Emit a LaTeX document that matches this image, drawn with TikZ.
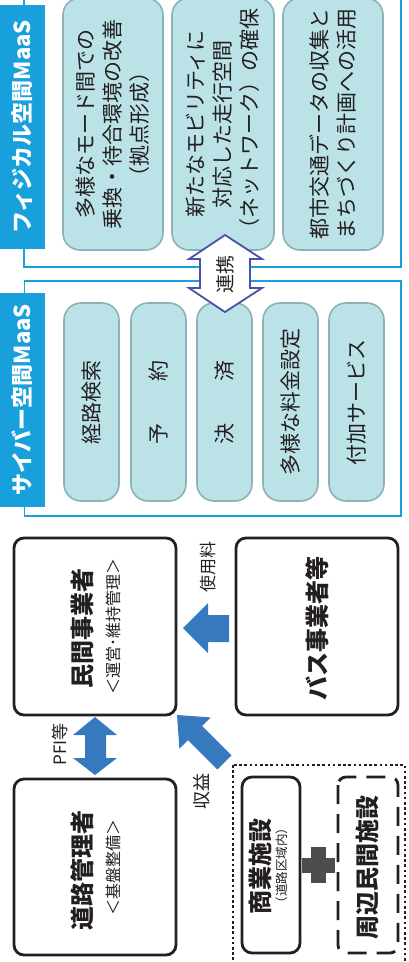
\documentclass[tikz,border=0pt]{standalone}
\usepackage{fontspec}
\setmainfont{Noto Sans CJK JP}
\definecolor{maasblue}{RGB}{24,160,220}
\definecolor{boxfill}{RGB}{186,226,231}
\definecolor{boxline}{RGB}{140,178,184}
\definecolor{arrowblue}{RGB}{55,121,191}
\definecolor{linkblue}{RGB}{72,82,168}
\definecolor{txt}{RGB}{35,30,32}
\definecolor{plusgray}{RGB}{77,77,77}
\tikzset{
  frame/.style={draw=maasblue, line width=1.8pt},
  strip/.style={fill=maasblue, rotate=90, inner sep=0pt, text=white, font=\bfseries\fontsize{22}{26}\selectfont},
  pbox/.style={draw=boxline, fill=boxfill, line width=1.6pt, rounded corners=17pt, rotate=90, inner sep=0pt, align=center, text=txt, font=\fontsize{21}{27}\selectfont},
  cbox/.style={pbox, minimum width=198, minimum height=55},
  bbox/.style={draw=txt, line width=2.8pt, rounded corners=10pt, inner sep=0pt},
  ttl/.style={rotate=90, inner sep=0pt, text=txt, font=\bfseries\fontsize{24}{28}\selectfont},
  subt/.style={rotate=90, inner sep=0pt, text=txt, font=\fontsize{16}{20}\selectfont},
  lbl/.style={rotate=90, inner sep=0pt, text=txt, font=\fontsize{17}{20}\selectfont},
  barrow/.style={fill=arrowblue, draw=none},
}
\begin{document}
\begin{tikzpicture}[x=1pt, y=-1pt]
\path[use as bounding box] (0,0) rectangle (408,962);
\clip (0,0) rectangle (408,962);
% frames
\draw[frame] (24,-10) rectangle (401,267);
\draw[frame] (24.5,281) rectangle (401,516);
% title strips
\node[strip, minimum width=244, minimum height=45] (phys) at (22.5,127) {フィジカル空間MaaS};
\node[strip, minimum width=214, minimum height=45] (cyber) at (22.5,400) {サイバー空間MaaS};
% physical boxes
\node[pbox, minimum width=252, minimum height=100] (p1) at (113,124) {多様なモード間での\\乗換・待合環境の改善\\（拠点形成）};
\node[pbox, minimum width=252, minimum height=102] (p2) at (223,124) {新たなモビリティに\\対応した走行空間\\（ネットワーク）の確保};
\node[pbox, minimum width=252, minimum height=100] (p3) at (333,124) {都市交通データの収集と\\まちづくり計画への活用};
% cyber boxes
\node[cbox] (c1) at (91.5,402) {経路検索};
\node[cbox] (c2) at (158.5,402) {予　　約};
\node[cbox] (c3) at (224.5,402) {決　　済};
\node[cbox] (c4) at (290.5,402) {多様な料金設定};
\node[cbox] (c5) at (356.5,402) {付加サービス};
% link arrow
\draw[fill=white, draw=linkblue, line width=1.8pt, line join=miter]
  (225,235) -- (262,259) -- (250,259) -- (250,288) -- (262,288) -- (225,312)
  -- (189,288) -- (200,288) -- (200,259) -- (189,259) -- cycle;
\node[rotate=90, inner sep=0pt, text=txt, font=\fontsize{19}{22}\selectfont] (link) at (225,274) {連携};
% black boxes
\node[bbox, minimum width=162, minimum height=177] (m) at (95,626.5) {};
\node[ttl] (mt) at (82,628.5) {民間事業者};
\node[subt] (ms) at (113,626.5) {＜運営･維持管理＞};
\node[bbox, minimum width=162, minimum height=177] (bus) at (317,626.5) {};
\node[ttl] (bust) at (317,628.5) {バス事業者等};
\node[bbox, minimum width=162, minimum height=176] (road) at (95,867) {};
\node[ttl] (roadt) at (82,870) {道路管理者};
\node[subt] (roads) at (113,867.5) {＜基盤整備＞};
% facilities
\draw[draw=txt, line width=2.6pt, dash pattern=on 2.6pt off 2.6pt] (233,765) rectangle (405,990);
\node[bbox, minimum width=58, minimum height=176] (shop) at (271,865) {};
\node[ttl] (shopt) at (260,866.5) {商業施設};
\node[subt, font=\fontsize{12.5}{15}\selectfont] (shops) at (282,865.5) {（道路区域内）};
\draw[draw=txt, line width=2.8pt, rounded corners=8pt, dash pattern=on 19pt off 10pt] (338,777) rectangle (398,953);
\node[ttl] (near) at (367,867.5) {周辺民間施設};
% plus
\fill[plusgray] (302,858) rectangle (335,873);
\fill[plusgray] (311,847) rectangle (326,883);
% blue block arrows
\draw[barrow] (95,717) -- (117,735) -- (106,735) -- (106,758) -- (117,758) -- (95,775)
  -- (73,758) -- (85,758) -- (85,735) -- (73,735) -- cycle;
\node[lbl] (pfi) at (60,744.5) {PFI等};
\draw[barrow] (183,628) -- (208,603) -- (208,615) -- (229,615) -- (229,642) -- (208,642) -- (208,653) -- cycle;
\node[lbl] (fee) at (208,567) {使用料};
\draw[barrow] (177,715) -- (210.6,717.4) -- (202.1,725.9) -- (231.5,755.3) -- (217.3,769.5)
  -- (187.9,740.1) -- (179.4,748.6) -- cycle;
\node[lbl, font=\fontsize{18}{20}\selectfont] (rev) at (202,791) {収益};
\end{tikzpicture}
\end{document}
